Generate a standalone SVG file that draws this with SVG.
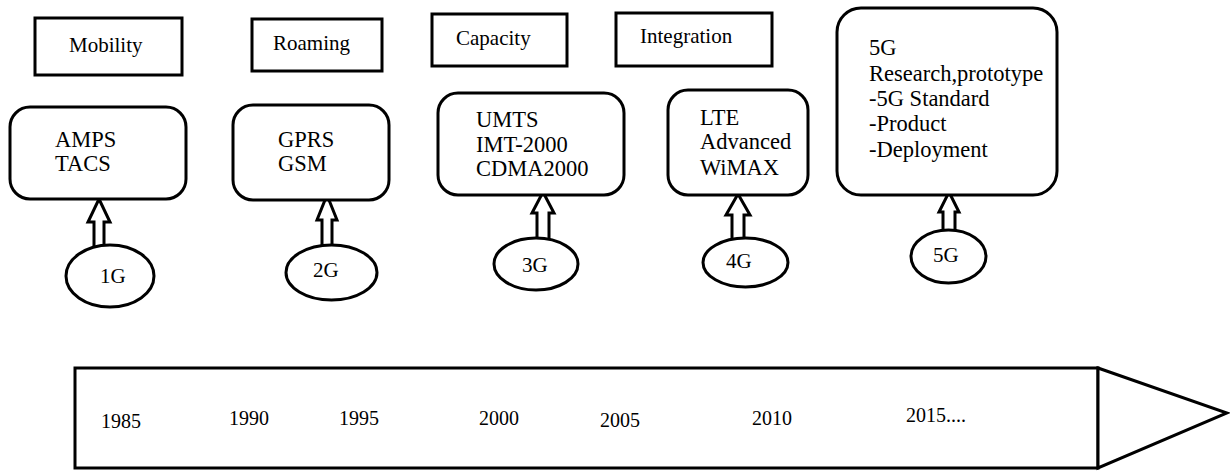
<svg xmlns="http://www.w3.org/2000/svg" width="1230" height="471" viewBox="0 0 1230 471">
<style>
text{font-family:"Liberation Serif","Times New Roman",serif;fill:#000}
.t{font-size:21px}
.b{font-size:22.5px}
.e{font-size:21px}
.y{font-size:20px}
.box{fill:#fff;stroke:#000;stroke-width:3}
.arr{fill:#fff;stroke:#000;stroke-width:3;stroke-linejoin:miter}
</style>
<rect width="1230" height="471" fill="#fff"/>
<g id="connectors">
<polygon class="arr" points="99,199 110,222 104,222 104,252 94,252 94,222 88,222"/>
<polygon class="arr" points="327,195 337,220 332,220 332,250 322,250 322,220 317,220"/>
<polygon class="arr" points="543,192 554,213 549,213 549,242 537,242 537,213 532,213"/>
<polygon class="arr" points="738,194 750,215 744,215 744,242 732,242 732,215 726,215"/>
<polygon class="arr" points="949,192 959,212 955,212 955,235 943,235 943,212 939,212"/>
</g>
<g id="mobility"><rect class="box" x="35" y="18" width="147" height="57"/><text class="t" x="69" y="52">Mobility</text></g>
<g id="roaming"><rect class="box" x="252" y="19" width="130" height="52"/><text class="t" x="273" y="50">Roaming</text></g>
<g id="capacity"><rect class="box" x="432" y="14" width="135" height="52"/><text class="t" x="456" y="45">Capacity</text></g>
<g id="integration"><rect class="box" x="616" y="13" width="156" height="53"/><text class="t" x="640" y="43">Integration</text></g>
<g id="gen1box"><rect class="box" x="10" y="107" width="176" height="92" rx="20"/><text class="b" x="55" y="147">AMPS</text><text class="b" x="55" y="171">TACS</text></g>
<g id="gen2box"><rect class="box" x="233" y="105" width="156" height="95" rx="20"/><text class="b" x="278" y="147">GPRS</text><text class="b" x="278" y="171">GSM</text></g>
<g id="gen3box"><rect class="box" x="438" y="93" width="186" height="102" rx="20"/><text class="b" x="476" y="127">UMTS</text><text class="b" x="476" y="152">IMT-2000</text><text class="b" x="476" y="176">CDMA2000</text></g>
<g id="gen4box"><rect class="box" x="668" y="90" width="140" height="105" rx="20"/><text class="b" x="700" y="125">LTE</text><text class="b" x="700" y="149">Advanced</text><text class="b" x="700" y="175">WiMAX</text></g>
<g id="gen5box"><rect class="box" x="837" y="8" width="220" height="187" rx="24"/><text class="b" x="869" y="55">5G</text><text class="b" x="869" y="81">Research,prototype</text><text class="b" x="869" y="106">-5G Standard</text><text class="b" x="869" y="131">-Product</text><text class="b" x="869" y="157">-Deployment</text></g>
<g id="g1"><ellipse class="box" cx="110" cy="276" rx="44" ry="31"/><text class="e" x="100" y="283">1G</text></g>
<g id="g2"><ellipse class="box" cx="331.5" cy="272.5" rx="45.5" ry="27.5"/><text class="e" x="313" y="277">2G</text></g>
<g id="g3"><ellipse class="box" cx="536" cy="264" rx="42" ry="26"/><text class="e" x="522" y="272">3G</text></g>
<g id="g4"><ellipse class="box" cx="745.5" cy="262.5" rx="42.5" ry="24.5"/><text class="e" x="726" y="268">4G</text></g>
<g id="g5"><ellipse class="box" cx="948.5" cy="256.5" rx="37.5" ry="26.5"/><text class="e" x="933" y="262">5G</text></g>
<g id="timeline">
<rect class="box" x="75" y="368" width="1023" height="100"/>
<polygon class="box" points="1098,368 1227,413 1098,468"/>
<text class="y" x="101" y="428">1985</text>
<text class="y" x="229" y="425">1990</text>
<text class="y" x="339" y="425">1995</text>
<text class="y" x="479" y="425">2000</text>
<text class="y" x="600" y="427">2005</text>
<text class="y" x="752" y="425">2010</text>
<text class="y" x="906" y="422">2015....</text>
</g>
</svg>
